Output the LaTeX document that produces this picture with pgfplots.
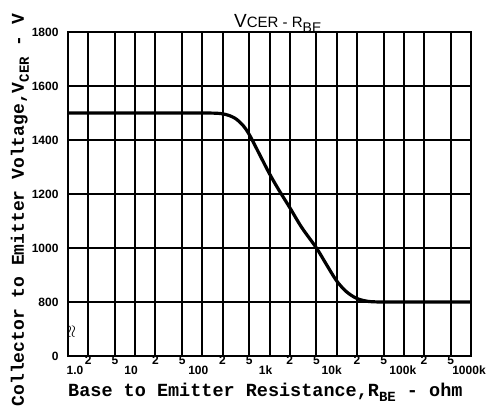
\documentclass[border=0pt]{standalone}
\usepackage{fontspec}
\usepackage{pgfplots}
\pgfplotsset{compat=1.18}
\setmainfont{Liberation Mono}
\newfontfamily\tickfont{Liberation Sans}
\newfontfamily\titlefont{Liberation Sans}
\newcommand{\dec}[2]{\hspace*{#1}\raisebox{-10pt}{#2}}
\begin{document}
\begin{tikzpicture}
\begin{axis}[
  scale only axis, width=403pt, height=324pt,
  xmode=log, xmin=1, xmax=1e6, ymin=600, ymax=1800,
  xtick={1,2,5,10,20,50,100,200,500,1000,2000,5000,10000,20000,50000,100000,200000,500000,1000000},
  xticklabels={{\dec{14pt}{1.0}},2,5,{\dec{-8pt}{10}},2,5,{\dec{-8pt}{100}},2,5,{\dec{-8pt}{1k}},2,5,{\dec{-10pt}{10k}},2,5,{\dec{-2pt}{100k}},2,5,{\dec{-4pt}{1000k}}},
  ytick={600,800,1000,1200,1400,1600,1800},
  yticklabels={0,800,1000,1200,1400,1600,1800},
  grid=major, major grid style={black, line width=2pt},
  minor tick length=0pt, major tick length=0pt,
  axis line style={line width=2.4pt},
  every tick label/.append style={font=\tickfont\bfseries\fontsize{12}{12}\selectfont},
  xticklabel style={anchor=north, inner sep=0pt, text height=8.5pt, text depth=0pt},
  yticklabel style={xshift=-6pt},
]
\addplot[black, line width=3.2pt, smooth, tension=0.5] coordinates {
(1,1500) (10,1500) (100,1500) (200,1497) (300,1482) (400,1455) (500,1420)
(700,1350) (1000,1275) (1400,1212) (2000,1150) (3000,1077) (5000,1000) (7000,940)
(10000,878) (14000,838) (20000,813) (30000,802) (50000,800) (100000,800) (1000000,800)
};
\end{axis}
\node[anchor=base west, inner sep=0pt, font=\bfseries\fontsize{18.5}{18.5}\selectfont]
  at ([shift={(0pt,-40pt)}]current axis.south west)
  {Base to Emitter Resistance,R\raisebox{-5pt}{\fontsize{14}{14}\selectfont BE} - ohm};
\node[rotate=90, anchor=center, inner sep=0pt, font=\bfseries\fontsize{18}{18}\selectfont]
  at ([shift={(-48pt,146pt)}]current axis.south west)
  {Collector to Emitter Voltage,V\raisebox{-5pt}{\fontsize{14}{14}\selectfont CER} - V};
\node[anchor=base west, inner sep=0pt, font=\titlefont]
  at ([shift={(166pt,4pt)}]current axis.north west)
  {{\fontsize{19}{19}\selectfont V}{\fontsize{15}{15}\selectfont CER - R}\raisebox{-5pt}{\fontsize{14}{14}\selectfont BE}};
\node[rotate=90, inner sep=0pt, font=\fontsize{18}{18}\selectfont]
  at ([shift={(4pt,24pt)}]current axis.south west) {$\approx$};
\pgfresetboundingbox
\path[use as bounding box] ([shift={(-68pt,-56pt)}]current axis.south west) rectangle ([shift={(26pt,32pt)}]current axis.north east);
\end{tikzpicture}
\end{document}
